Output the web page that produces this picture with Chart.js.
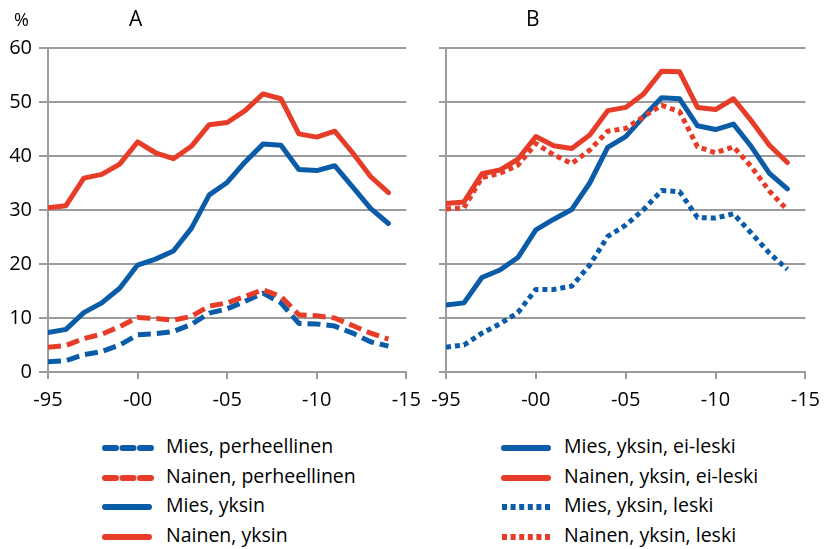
<!DOCTYPE html>
<html>
<head>
<meta charset="utf-8">
<script src="https://cdn.jsdelivr.net/npm/chart.js@4.4.1/dist/chart.umd.min.js"></script>
<style>
  html, body { margin: 0; padding: 0; background: #fff; }
  body { width: 829px; height: 549px; position: relative; overflow: hidden; font-family: "Open Sans", sans-serif; color: #000; }
  .cv { position: absolute; top: 0; }
  .lbl { position: absolute; font-family: "Open Sans", sans-serif; line-height: 1; white-space: nowrap; }
  .leg { position: absolute; font-family: "Open Sans", sans-serif; font-size: 19.5px; line-height: 1; white-space: nowrap; }
  .leg svg { position: absolute; left: 0; top: -10px; }
  .leg span { position: absolute; top: -12px; }
</style>
</head>
<body>
<div class="cv" style="left:0;width:430px;height:420px;"><canvas id="cA"></canvas></div>
<div class="cv" style="left:420px;width:409px;height:420px;"><canvas id="cB"></canvas></div>
<div class="lbl" style="left:14px;top:10px;font-size:18px;">%</div>
<div class="lbl" style="left:129px;top:8px;font-size:21px;">A</div>
<div class="lbl" style="left:526px;top:8px;font-size:21px;">B</div>
<div id="legend"></div>
<script>
// ---- data ----
const years = [1995,1996,1997,1998,1999,2000,2001,2002,2003,2004,2005,2006,2007,2008,2009,2010,2011,2012,2013,2014];
const xTickValues = [1995, 2000, 2005, 2010, 2015];
const xTickLabels = ['-95', '-00', '-05', '-10', '-15'];
const yTickLabelsA = ['0', '10', '20', '30', '40', '50', '60'];

// Panel A
const miesPerheellinen   = [1.9, 2.1, 3.2, 3.8, 5.0, 6.9, 7.1, 7.5, 8.8, 10.9, 11.7, 13.1, 14.6, 12.8, 9.0, 8.9, 8.5, 7.2, 5.6, 4.8];
const nainenPerheellinen = [4.6, 4.9, 6.2, 7.0, 8.4, 10.1, 9.9, 9.6, 10.3, 12.2, 12.8, 14.0, 15.2, 14.0, 10.6, 10.4, 10.0, 8.6, 7.2, 6.1];
const miesYksin          = [7.3, 7.9, 11.0, 12.8, 15.5, 19.8, 20.9, 22.4, 26.6, 32.8, 35.1, 38.9, 42.2, 42.0, 37.5, 37.3, 38.2, 34.3, 30.3, 27.5];
const nainenYksin        = [30.4, 30.8, 35.9, 36.6, 38.5, 42.6, 40.6, 39.5, 41.8, 45.8, 46.2, 48.4, 51.5, 50.6, 44.1, 43.5, 44.6, 40.6, 36.2, 33.2];

// Panel B
const miesEiLeski   = [12.4, 12.8, 17.5, 18.9, 21.2, 26.3, 28.3, 30.1, 35.0, 41.6, 43.6, 47.3, 50.8, 50.6, 45.6, 44.9, 45.9, 41.7, 36.8, 33.9];
const nainenEiLeski = [31.2, 31.5, 36.7, 37.4, 39.4, 43.6, 41.9, 41.4, 43.9, 48.4, 49.0, 51.5, 55.7, 55.6, 49.0, 48.6, 50.6, 46.5, 42.0, 38.8];
const miesLeski     = [4.6, 5.0, 7.2, 8.9, 11.0, 15.3, 15.3, 15.9, 19.8, 25.1, 27.2, 30.1, 33.6, 33.4, 28.6, 28.5, 29.3, 25.7, 22.0, 19.0];
const nainenLeski   = [30.2, 30.4, 36.0, 36.8, 38.3, 42.3, 40.2, 38.6, 41.1, 44.6, 45.1, 47.3, 49.4, 48.2, 41.7, 40.6, 41.7, 38.0, 33.5, 30.0];

const labelsA = ['Mies, perheellinen', 'Nainen, perheellinen', 'Mies, yksin', 'Nainen, yksin'];
const labelsB = ['Mies, yksin, ei-leski', 'Nainen, yksin, ei-leski', 'Mies, yksin, leski', 'Nainen, yksin, leski'];

const BLUE = '#0a5ba8';
const RED = '#e63c28';
const GRID = '#9c9c9c';
const DASH = [13, 6];
const DOT = [5, 4];

function pts(vals) { return vals.map((v, i) => ({ x: years[i], y: v })); }
function ds(label, vals, color, dash) {
  return {
    label, data: pts(vals), borderColor: color, backgroundColor: color,
    borderWidth: 5, borderDash: dash || [], borderCapStyle: dash ? 'butt' : 'round',
    borderJoinStyle: 'round', pointRadius: 0, pointHoverRadius: 0, tension: 0, fill: false
  };
}

function makeOptions(showYLabels, yWidth, padRight, yTickLen) {
  return {
    responsive: true, maintainAspectRatio: false, animation: false,
    events: [],
    layout: { padding: { top: 48, right: padRight, left: 0, bottom: 0 } },
    plugins: { legend: { display: false }, tooltip: { enabled: false }, title: { display: false } },
    scales: {
      x: {
        type: 'linear', min: 1995, max: 2015,
        afterBuildTicks: (s) => { s.ticks = xTickValues.map(v => ({ value: v })); },
        afterFit: (s) => { s.height = 48; },
        ticks: {
          autoSkip: false, maxRotation: 0, padding: 9, color: '#000',
          font: { family: 'Open Sans', size: 20 },
          callback: (v) => { const i = xTickValues.indexOf(v); return i >= 0 ? xTickLabels[i] : ''; }
        },
        grid: { drawOnChartArea: false, drawTicks: true, tickLength: 7, color: GRID, lineWidth: 2 },
        border: { display: true, color: GRID, width: 2 }
      },
      y: {
        min: 0, max: 60,
        afterFit: (s) => { s.width = yWidth; },
        ticks: {
          stepSize: 10, padding: 7, color: '#000',
          font: { family: 'Open Sans', size: 20 },
          callback: (v) => showYLabels ? yTickLabelsA[Math.round(v / 10)] : ''
        },
        grid: { drawTicks: true, tickLength: yTickLen, color: GRID, lineWidth: 2 },
        border: { display: true, color: GRID, width: 2 }
      }
    }
  };
}

new Chart(document.getElementById('cA'), {
  type: 'line',
  data: { datasets: [
    ds(labelsA[3], nainenYksin, RED),
    ds(labelsA[2], miesYksin, BLUE),
    ds(labelsA[1], nainenPerheellinen, RED, DASH),
    ds(labelsA[0], miesPerheellinen, BLUE, DASH)
  ] },
  options: makeOptions(true, 48, 18, 9)
});

new Chart(document.getElementById('cB'), {
  type: 'line',
  data: { datasets: [
    ds(labelsB[3], nainenLeski, RED, DOT),
    ds(labelsB[2], miesLeski, BLUE, DOT),
    ds(labelsB[1], nainenEiLeski, RED),
    ds(labelsB[0], miesEiLeski, BLUE)
  ] },
  options: makeOptions(false, 26, 16, 7)
});

// ---- legend (HTML) ----
const legendRowsY = [448, 478, 507, 537];
const legendA = [
  { label: labelsA[0], color: BLUE, kind: 'dash' },
  { label: labelsA[1], color: RED, kind: 'dash' },
  { label: labelsA[2], color: BLUE, kind: 'solid' },
  { label: labelsA[3], color: RED, kind: 'solid' }
];
const legendB = [
  { label: labelsB[0], color: BLUE, kind: 'solid' },
  { label: labelsB[1], color: RED, kind: 'solid' },
  { label: labelsB[2], color: BLUE, kind: 'dot' },
  { label: labelsB[3], color: RED, kind: 'dot' }
];
function sample(kind, color) {
  let line;
  if (kind === 'dash') line = `<line x1="3" y1="10" x2="49" y2="10" stroke="${color}" stroke-width="6" stroke-linecap="round" stroke-dasharray="11 6.5"/>`;
  else if (kind === 'dot') line = `<line x1="1" y1="10" x2="49" y2="10" stroke="${color}" stroke-width="6" stroke-linecap="butt" stroke-dasharray="5 3.6"/>`;
  else line = `<line x1="3" y1="10" x2="47" y2="10" stroke="${color}" stroke-width="6" stroke-linecap="round"/>`;
  return `<svg width="52" height="20">${line}</svg>`;
}
const legendEl = document.getElementById('legend');
function buildLegend(items, sx, tx) {
  items.forEach((it, i) => {
    const d = document.createElement('div');
    d.className = 'leg';
    d.style.left = sx + 'px';
    d.style.top = legendRowsY[i] + 'px';
    d.innerHTML = sample(it.kind, it.color) + `<span style="left:${tx - sx}px">${it.label}</span>`;
    legendEl.appendChild(d);
  });
}
buildLegend(legendA, 102, 166);
buildLegend(legendB, 501, 564);
</script>
</body>
</html>
